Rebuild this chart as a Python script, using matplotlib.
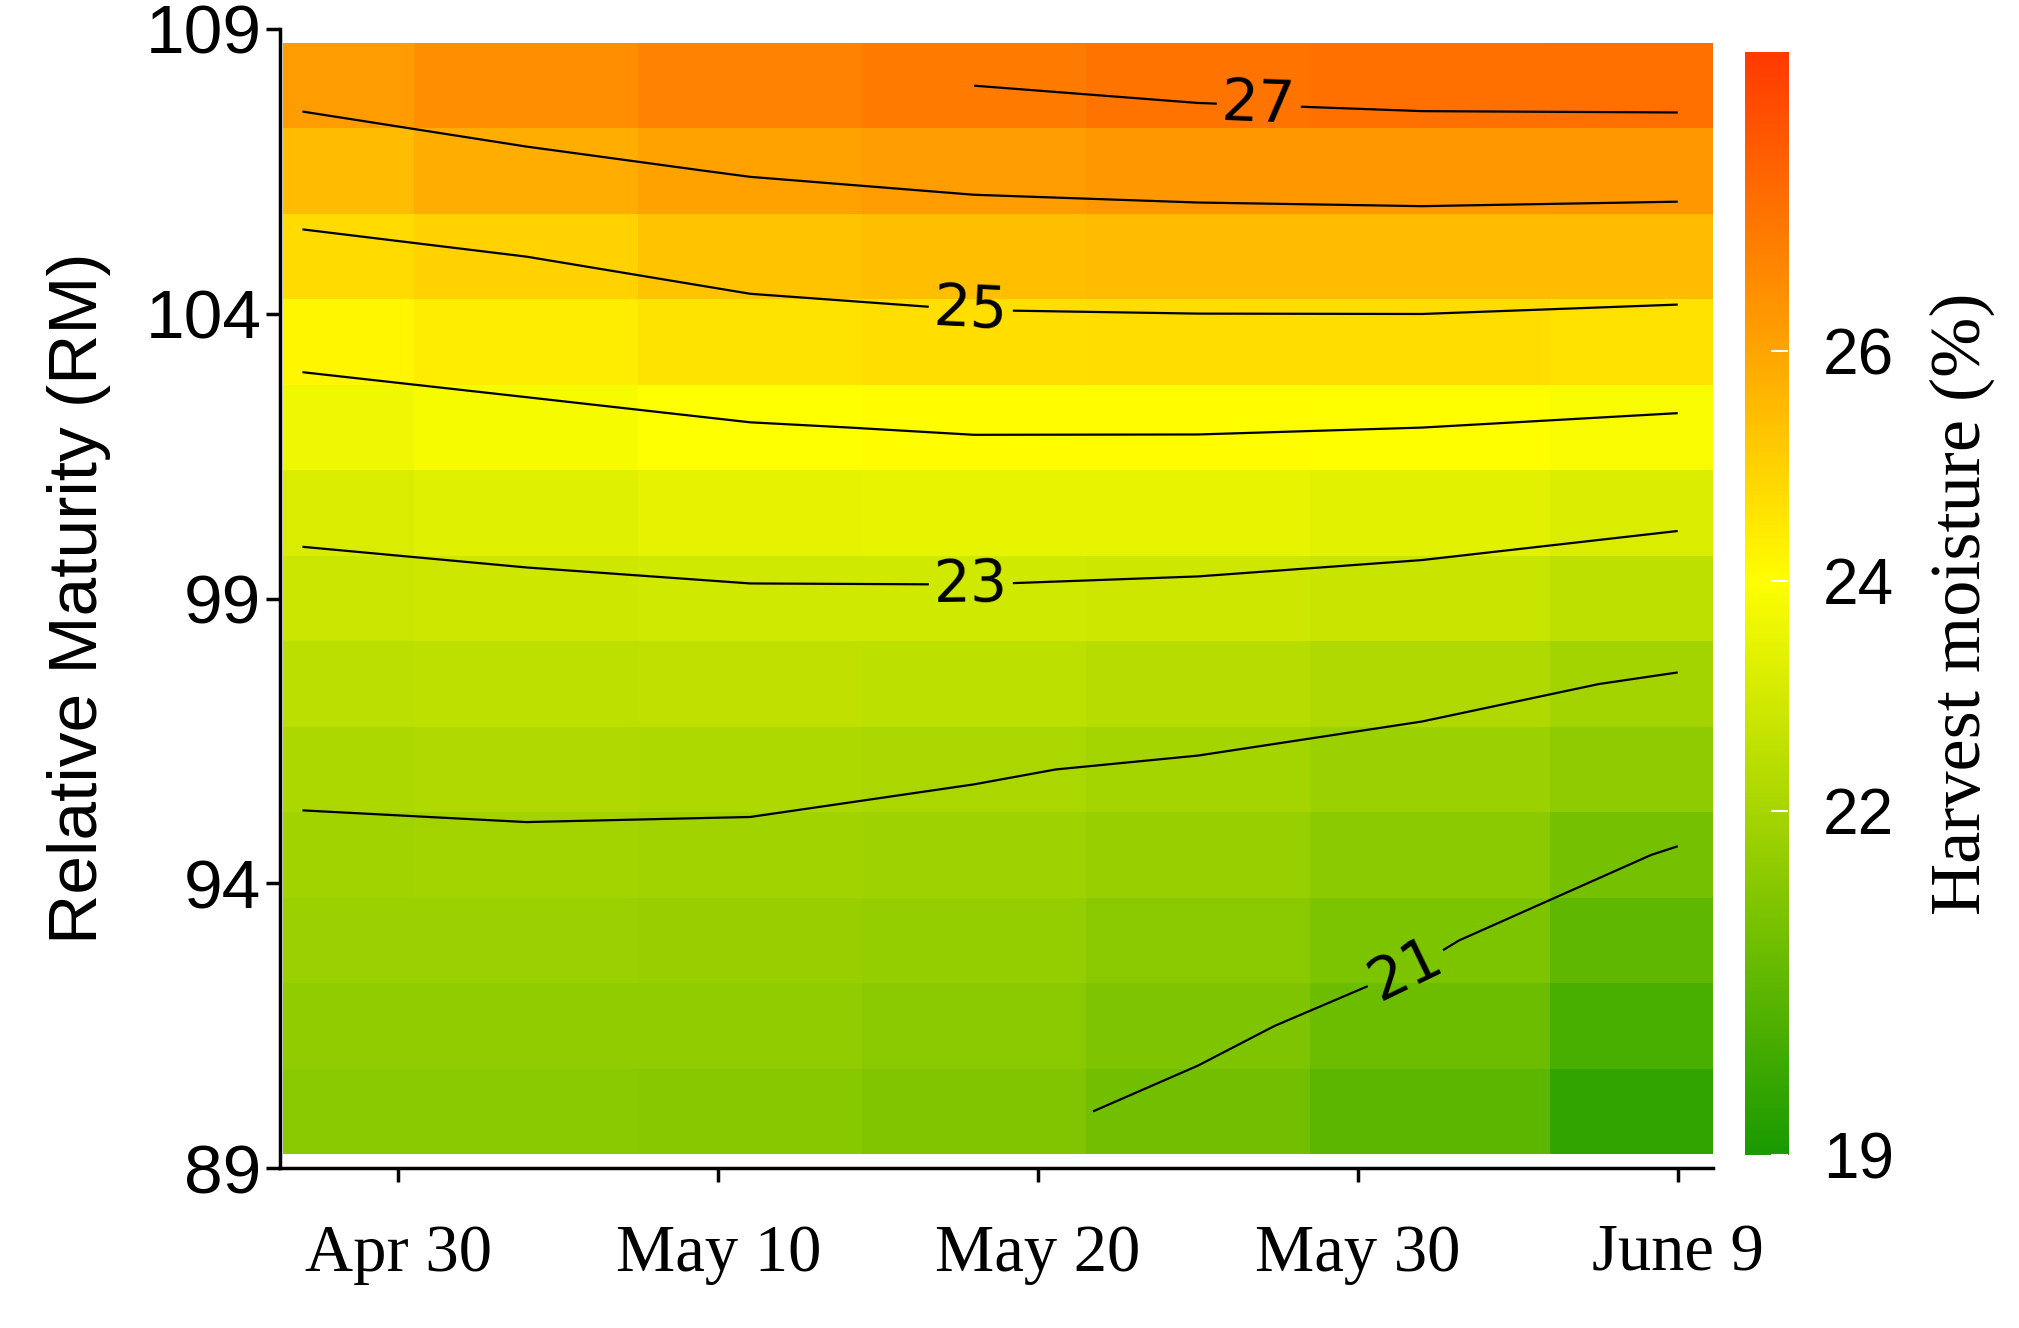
import numpy as np
import matplotlib
matplotlib.use("Agg")
import matplotlib.pyplot as plt
from matplotlib.colors import LinearSegmentedColormap

# planting date, days after Apr 27 (column centres)
days = [0, 7, 14, 21, 28, 35, 43]
day_edges = [-0.6, 3.5, 10.5, 17.5, 24.5, 31.5, 39, 44.1]
# relative maturity (row centres)
rm = [90, 91.5, 93, 94.5, 96, 97.5, 99, 100.5, 102, 103.5, 105, 106.5, 108]
rm_edges = [89.25 + 1.5 * i for i in range(14)]

# harvest moisture (%) per column (day), rows follow rm
m_d0 = [21.35, 21.53, 21.71, 21.88, 22.11, 22.44, 22.77, 23.15, 23.65, 24.19, 24.78, 25.47, 26.23]
m_d7 = [21.34, 21.53, 21.71, 21.90, 22.16, 22.50, 22.84, 23.28, 23.79, 24.38, 25.00, 25.79, 26.52]
m_d14 = [21.29, 21.49, 21.68, 21.88, 22.15, 22.53, 22.91, 23.42, 23.96, 24.61, 25.30, 26.05, 26.80]
m_d21 = [21.17, 21.38, 21.60, 21.81, 22.04, 22.48, 22.91, 23.46, 24.05, 24.73, 25.45, 26.21, 27.00]
m_d28 = [20.85, 21.13, 21.39, 21.66, 21.93, 22.36, 22.85, 23.43, 24.05, 24.75, 25.50, 26.29, 27.18]
m_d35 = [20.41, 20.75, 21.09, 21.43, 21.77, 22.18, 22.73, 23.33, 24.00, 24.75, 25.51, 26.34, 27.28]
m_d43 = [19.50, 19.98, 20.47, 20.95, 21.44, 21.92, 22.51, 23.13, 23.87, 24.64, 25.46, 26.30, 27.32]

levels = [21, 22, 23, 24, 25, 26, 27]
label_pos = [(34.5, 92.5), (20.9, 99.2), (20.9, 104.1), (29.9, 107.6)]

x_ticks = [3, 13, 23, 33, 43]
x_labels = ["Apr 30", "May 10", "May 20", "May 30", "June 9"]
y_ticks = [89, 94, 99, 104, 109]
cb_ticks = [19, 22, 24, 26]
vmin, vmax = 19, 28.6

Z = np.column_stack([m_d0, m_d7, m_d14, m_d21, m_d28, m_d35, m_d43])

cmap = LinearSegmentedColormap.from_list("moist", [
    (0.0, "#1a9a00"), (0.3125, "#a8d600"), (0.52, "#ffff00"),
    (0.729, "#ffa500"), (1.0, "#ff3a00")])

fig = plt.figure(figsize=(20.19, 13.28), dpi=100)
ax = fig.add_axes([0.1387, 0.1202, 0.8484 - 0.1387, 0.9784 - 0.1202])
ax.pcolormesh(day_edges, rm_edges, Z, cmap=cmap, vmin=vmin, vmax=vmax, shading="flat")
cs = ax.contour(days, rm, Z, levels=levels, colors="black", linewidths=1.6)
ax.clabel(cs, manual=label_pos, fmt="%d", fontsize=42, inline=True)

ax.set_xlim(-0.7, 44.1)
ax.set_ylim(89, 109)
for s in ["top", "right"]:
    ax.spines[s].set_visible(False)
for s in ["left", "bottom"]:
    ax.spines[s].set_linewidth(2.5)
ax.set_yticks(y_ticks)
ax.set_yticklabels([str(v) for v in y_ticks], fontsize=50, family="Liberation Sans")
ax.set_xticks(x_ticks)
ax.set_xticklabels(x_labels, fontsize=48, family="Liberation Serif")
for lab in ax.get_xticklabels():
    lab.set_transform(lab.get_transform() + matplotlib.transforms.ScaledTranslation(0.52, 0, fig.dpi_scale_trans))
ax.tick_params(axis="both", length=10, width=2.5)
ax.tick_params(axis="x", pad=30)
ax.set_ylabel("Relative Maturity (RM)", fontsize=50, family="Liberation Sans", labelpad=25)

cax = fig.add_axes([0.8645, 0.13, 0.0213, 0.9608 - 0.13])
grad = np.linspace(vmin, vmax, 256).reshape(-1, 1)
cax.imshow(grad, aspect="auto", origin="lower", cmap=cmap, vmin=vmin, vmax=vmax,
           extent=[0, 1, vmin, vmax])
cax.set_xticks([])
cax.yaxis.tick_right()
cax.set_yticks(cb_ticks)
cax.set_yticklabels([str(v) for v in cb_ticks], fontsize=46, family="Liberation Sans")
cax.tick_params(axis="y", direction="in", colors="white", length=12, width=1.5, pad=25)
for lab in cax.get_yticklabels():
    lab.set_color("black")
for s in cax.spines.values():
    s.set_visible(False)
cax.yaxis.set_label_position("right")
cax.set_ylabel("Harvest moisture (%)", fontsize=52, family="Liberation Serif", labelpad=25)

fig.savefig("out.png", dpi=100)
